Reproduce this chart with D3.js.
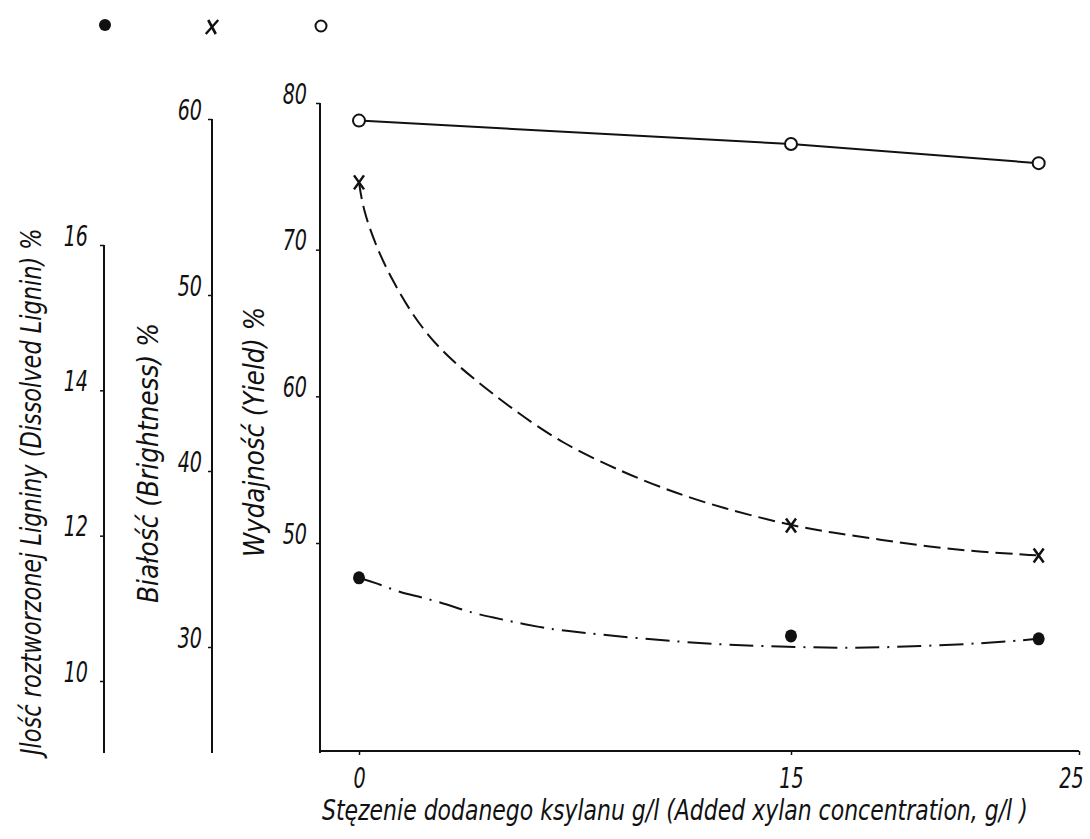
<!DOCTYPE html>
<html><head><meta charset="utf-8">
<script src="https://cdn.jsdelivr.net/npm/d3@7"></script>
<style>
html,body{margin:0;padding:0;background:#fff;}
svg{display:block;}
text{font-family:"DejaVu Sans","Liberation Sans",sans-serif;font-style:italic;fill:#111;}
</style></head><body>
<svg id="chart" width="1090" height="839"></svg>
<script>
// ---- data ----
const xValues = [0, 15, 23.6];
const yieldValues = [78.8, 77.2, 75.9];
const brightnessValues = [56.4, 36.9, 35.2];
const ligninValues = [11.42, 10.62, 10.58];

// hand-drawn fitted curves
const brightnessFitX = [0, 0.15, 0.63, 1.2, 1.9, 2.8, 4.0, 5.35, 7.0, 9.2, 10.9, 12.6, 15, 16.4, 18.1, 19.8, 21.6, 23.6];
const brightnessFitY = [56.4, 54.8, 52.6, 50.7, 48.75, 46.9, 45.2, 43.5, 41.6, 39.9, 38.8, 37.9, 36.9, 36.5, 36.1, 35.7, 35.4, 35.2];
const ligninFitX = [0, 0.6, 1.4, 2.1, 3.1, 3.8, 4.7, 5.4, 6.3, 6.9, 9.8, 12.5, 14.9, 17.2, 19.5, 21.8, 23.6];
const ligninFitY = [11.42, 11.35, 11.22, 11.16, 11.05, 10.95, 10.87, 10.81, 10.74, 10.70, 10.58, 10.50, 10.47, 10.45, 10.48, 10.52, 10.58];

const xTicks = [0, 15, 25];
const yieldTicks = [50, 60, 70, 80];
const brightnessTicks = [30, 40, 50, 60];
const ligninTicks = [10, 12, 14, 16];

const xTitle = "Stęzenie dodanego ksylanu g/l  (Added xylan concentration, g/l )";
const yieldTitle = "Wydajność  (Yield) %";
const brightnessTitle = "Białość  (Brightness)  %";
const ligninTitle = "Jlość roztworzonej Ligniny  (Dissolved Lignin) %";

// ---- layout ----
const svg = d3.select("#chart");
const ink = "#111";
const baseY = 751;
const sq = 0.66; // horizontal squeeze of the hand-lettered digits
const x = d3.scaleLinear().domain([0, 25]).range([359, 1079]);
const yY = d3.scaleLinear().domain([50, 80]).range([543, 103]);
const yB = d3.scaleLinear().domain([30, 60]).range([647, 119]);
const yL = d3.scaleLinear().domain([10, 16]).range([681, 245]);

const axisDefs = [
  {scale: yY, ticks: yieldTicks, ax: 320, pad: 13},
  {scale: yB, ticks: brightnessTicks, ax: 212, pad: 10},
  {scale: yL, ticks: ligninTicks, ax: 104, pad: 16}
];
axisDefs.forEach(a => {
  const g = svg.append("g").attr("transform", `translate(${a.ax},0)`)
    .call(d3.axisLeft(a.scale).tickValues(a.ticks).tickSize(4).tickSizeOuter(0).tickFormat(d3.format("d")));
  g.attr("font-family", null).attr("font-size", null);
  g.select(".domain").remove();
  g.selectAll(".tick line").attr("stroke", ink).attr("stroke-width", 1.5);
  g.selectAll(".tick text").attr("x", -a.pad / sq).attr("dy", "0").attr("fill", ink)
    .attr("transform", `scale(${sq},1)`)
    .style("font-size", "29px");
  g.append("line").attr("x1", 0).attr("x2", 0)
    .attr("y1", a.scale(d3.max(a.ticks))).attr("y2", baseY + 2)
    .attr("stroke", ink).attr("stroke-width", 2);
});

// x axis
const gx = svg.append("g").attr("transform", `translate(0,${baseY})`)
  .call(d3.axisBottom(x).tickValues(xTicks).tickSize(4).tickSizeOuter(0).tickFormat(d3.format("d")));
gx.attr("font-family", null).attr("font-size", null);
gx.select(".domain").remove();
gx.selectAll(".tick line").attr("stroke", ink).attr("stroke-width", 1.5);
gx.selectAll(".tick text").attr("y", 37).attr("dy", "0").attr("fill", ink)
  .attr("x", d => (d === d3.max(xTicks) ? -8 : 0) / sq)
  .attr("transform", `scale(${sq},1)`)
  .style("font-size", "29px");
gx.append("line").attr("x1", 320).attr("x2", x(25)).attr("y1", 0).attr("y2", 0)
  .attr("stroke", ink).attr("stroke-width", 2);

// titles, squeezed to the hand-lettered width
function squeezedText(txt, tx, ty, rot, len) {
  const t = svg.append("text").style("font-size", "29px").text(txt);
  const natural = t.node().getComputedTextLength();
  t.attr("transform", `translate(${tx},${ty}) rotate(${rot}) scale(${len / natural},1)`);
}
squeezedText(xTitle, 322, 820, 0, 706);
squeezedText(ligninTitle, 41, 755, -90, 527);
squeezedText(brightnessTitle, 158, 603, -90, 280);
squeezedText(yieldTitle, 264, 557, -90, 250);

// curves
const lineY = d3.line().x(d => x(d[0])).y(d => yY(d[1]));
svg.append("path").datum(d3.zip(xValues, yieldValues)).attr("d", lineY)
  .attr("fill", "none").attr("stroke", ink).attr("stroke-width", 2);

const lineB = d3.line().x(d => x(d[0])).y(d => yB(d[1])).curve(d3.curveBasis);
svg.append("path").datum(d3.zip(brightnessFitX, brightnessFitY)).attr("d", lineB)
  .attr("fill", "none").attr("stroke", ink).attr("stroke-width", 2).attr("stroke-dasharray", "17,7");

const lineL = d3.line().x(d => x(d[0])).y(d => yL(d[1])).curve(d3.curveBasis);
svg.append("path").datum(d3.zip(ligninFitX, ligninFitY)).attr("d", lineL)
  .attr("fill", "none").attr("stroke", ink).attr("stroke-width", 2).attr("stroke-dasharray", "24,8,2,8");

// markers
const crossPath = "M-5,-7L5,7M5,-7L-5,7";
svg.append("g").selectAll("path").data(d3.zip(xValues, brightnessValues)).join("path")
  .attr("transform", d => `translate(${x(d[0])},${yB(d[1])})`).attr("d", crossPath)
  .attr("stroke", ink).attr("stroke-width", 2.5).attr("fill", "none");
svg.append("g").selectAll("ellipse").data(d3.zip(xValues, ligninValues)).join("ellipse")
  .attr("cx", d => x(d[0])).attr("cy", d => yL(d[1])).attr("rx", 6).attr("ry", 6.5).attr("fill", ink);
svg.append("g").selectAll("circle").data(d3.zip(xValues, yieldValues)).join("circle")
  .attr("cx", d => x(d[0])).attr("cy", d => yY(d[1])).attr("r", 6)
  .attr("fill", "#fff").attr("stroke", ink).attr("stroke-width", 2);

// legend symbols (above each axis)
const leg = svg.append("g");
leg.append("circle").attr("cx", 105).attr("cy", 25).attr("r", 6).attr("fill", ink);
leg.append("path").attr("transform", "translate(212,27) skewX(-10)").attr("d", "M-5,-7L5,7M5,-7L-5,7")
  .attr("stroke", ink).attr("stroke-width", 2.5).attr("fill", "none");
leg.append("circle").attr("cx", 321).attr("cy", 26).attr("r", 5.5).attr("fill", "#fff")
  .attr("stroke", ink).attr("stroke-width", 2);
</script>
</body></html>
